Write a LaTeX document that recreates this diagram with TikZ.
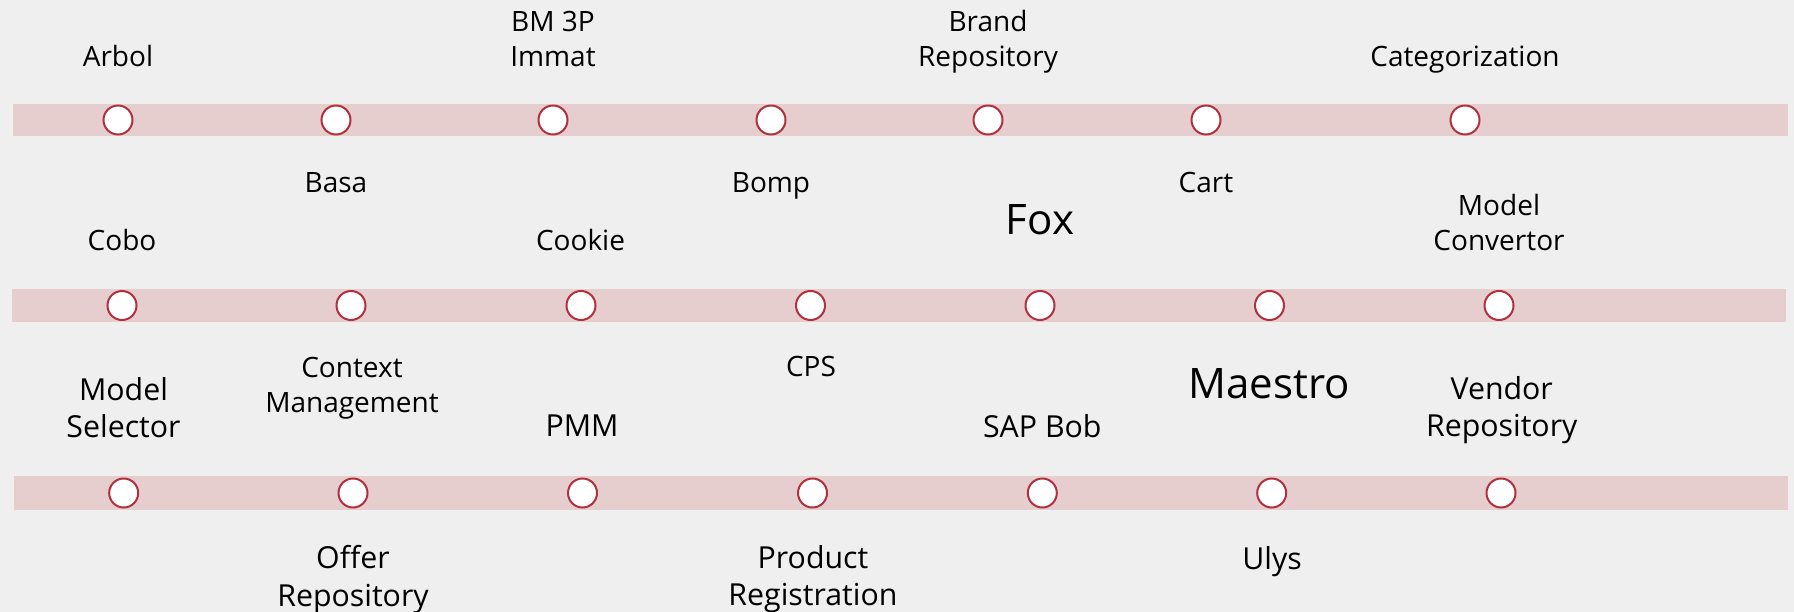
\documentclass[tikz,border=0pt]{standalone}
\usepackage{fontspec}
\setmainfont{Open Sans}
\definecolor{bg}{RGB}{239,239,239}
\definecolor{band}{RGB}{230,206,207}
\definecolor{ring}{RGB}{176,48,62}
\begin{document}
\begin{tikzpicture}[x=1pt,y=-1pt,
  stop/.style={circle,draw=ring,line width=2pt,fill=white,minimum size=29pt,inner sep=0pt},
  lbl/.style={anchor=base,inner sep=0pt,align=center,font=\fontsize{28}{35}\selectfont},
  lblb/.style={anchor=base,inner sep=0pt,align=center,font=\fontsize{30.3}{37.3}\selectfont},
  big/.style={anchor=base,inner sep=0pt,font=\fontsize{42}{50}\selectfont},
  bandbox/.style={fill=band,draw=none}]
\fill[bg] (0,0) rectangle (1794,612);
\useasboundingbox (0,0) rectangle (1794,612);
% bands
\path[bandbox] (13,104) rectangle (1788,136);
\path[bandbox] (12,289) rectangle (1786,322);
\path[bandbox] (14,476) rectangle (1788,510);
% row 1 stops
\node[stop] (a1) at (118,120) {};
\node[stop] (a2) at (336,120) {};
\node[stop] (a3) at (553,120) {};
\node[stop] (a4) at (771,120) {};
\node[stop] (a5) at (988,120) {};
\node[stop] (a6) at (1206,120) {};
\node[stop] (a7) at (1465,120) {};
% row 2 stops
\node[stop] (b1) at (122,305.5) {};
\node[stop] (b2) at (351,305.5) {};
\node[stop] (b3) at (581,305.5) {};
\node[stop] (b4) at (810.5,305.5) {};
\node[stop] (b5) at (1040,305.5) {};
\node[stop] (b6) at (1269.5,305.5) {};
\node[stop] (b7) at (1499,305.5) {};
% row 3 stops
\node[stop] (c1) at (123.7,493) {};
\node[stop] (c2) at (353,493) {};
\node[stop] (c3) at (582.5,493) {};
\node[stop] (c4) at (812.5,493) {};
\node[stop] (c5) at (1042.3,493) {};
\node[stop] (c6) at (1271.7,493) {};
\node[stop] (c7) at (1501,493) {};
% row 1 labels (base = baseline of last line)
\node[lbl] (tArbol) at (118,66.7) {Arbol};
\node[lbl] (tBM) at (553,66.7) {BM 3P\\Immat};
\node[lbl] (tBrand) at (988,66.2) {Brand\\Repository};
\node[lbl] (tCat) at (1465,66.7) {Categorization};
\node[lbl] (tBasa) at (336,192.7) {Basa};
\node[lbl] (tBomp) at (771,192.7) {Bomp};
\node[lbl] (tCart) at (1206,192.7) {Cart};
\node[big] (tFox) at (1040,235) {Fox};
% row 2 labels
\node[lbl] (tCobo) at (122,250.7) {Cobo};
\node[lbl] (tCookie) at (580.5,250.7) {Cookie};
\node[lbl] (tConv) at (1499,250.7) {Model\\Convertor};
\node[lblb] (tSel) at (123.5,437.3) {Model\\Selector};
\node[lbl] (tCtx) at (352,412.3) {Context\\Management};
\node[lbl] (tCPS) at (811,377) {CPS};
\node[big] (tMaestro) at (1269,398) {Maestro};
\node[lblb] (tVendor) at (1501.7,436.7) {Vendor\\Repository};
% row 3 labels
\node[lblb] (tPMM) at (582,436.5) {PMM};
\node[lblb] (tSAP) at (1042.3,437.5) {SAP Bob};
\node[lblb] (tOffer) at (353,606) {Offer\\Repository};
\node[lblb] (tProd) at (813,605.5) {Product\\Registration};
\node[lblb] (tUlys) at (1272,569) {Ulys};
\end{tikzpicture}
\end{document}
